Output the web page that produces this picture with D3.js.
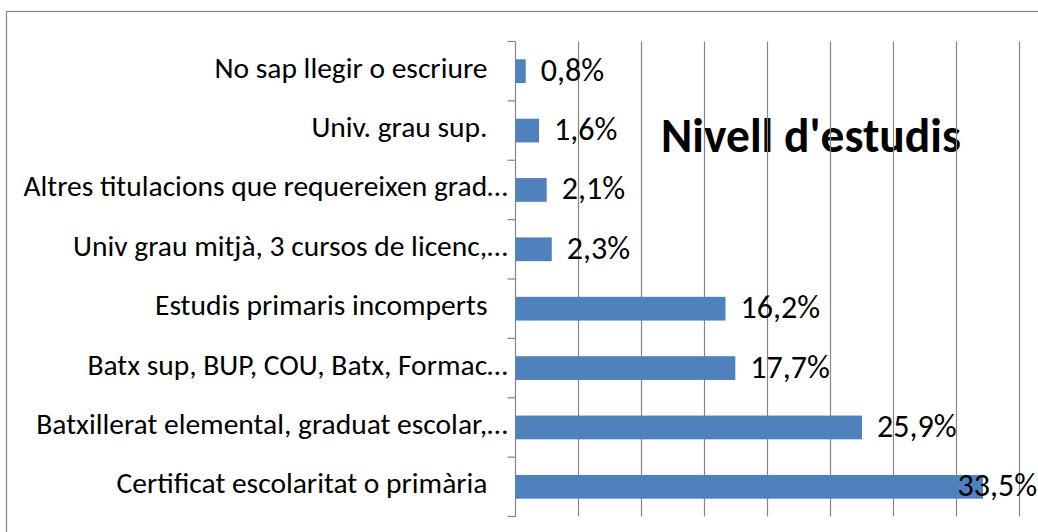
<!DOCTYPE html>
<html>
<head>
<meta charset="utf-8">
<script src="https://cdn.jsdelivr.net/npm/d3@7/dist/d3.min.js"></script>
<style>
  body { margin: 0; background: #fff; overflow: hidden; }
  svg { display: block; }
  text { white-space: pre; }
</style>
</head>
<body>
<div id="chart"></div>
<script>
// categories, top to bottom as drawn
const categories = [
    "No sap llegir o escriure   ",
    "Univ. grau sup.   ",
    "Altres titulacions que requereixen grad…",
    "Univ grau mitjà, 3 cursos de licenc,…",
    "Estudis primaris incomperts   ",
    "Batx sup, BUP, COU, Batx, Formac…",
    "Batxillerat elemental, graduat escolar,…",
    "Certificat escolaritat o primària   "
];
// bar lengths (gridline every 4.5)
const barValues = [0.73, 1.68, 2.23, 2.59, 15.0, 15.7, 24.75, 33.4];
// data labels printed next to the bars
const percentLabels = ["0,8%", "1,6%", "2,1%", "2,3%", "16,2%", "17,7%", "25,9%", "33,5%"];
const gridValues = [4.5, 9, 13.5, 18, 22.5, 27, 31.5, 36, 40.5];
const chartTitle = "Nivell d'estudis";

const W = 1038, H = 532;
const margin = { top: 41.5, left: 515.5 };
const plotH = 475;
const font = "Carlito, Calibri, Lato, sans-serif";

const svg = d3.select("#chart")
    .append("svg")
    .attr("width", W)
    .attr("height", H);

// chart border (runs off the right and bottom)
svg.append("rect")
    .attr("x", 6.5).attr("y", 11.5)
    .attr("width", W + 20).attr("height", H + 20)
    .attr("fill", "none")
    .attr("stroke", "#868686")
    .attr("stroke-width", 1.2);

const g = svg.append("g")
    .attr("transform", `translate(${margin.left}, ${margin.top})`);

const xScale = d3.scaleLinear()
    .domain([0, 36])
    .range([0, 504]);

const yScale = d3.scaleBand()
    .domain(categories)
    .range([0, plotH]);

// title is under the gridlines in the original
g.append("text")
    .attr("x", 811 - margin.left)
    .attr("y", 151.5 - margin.top)
    .attr("text-anchor", "middle")
    .style("font-family", font)
    .style("font-size", "47.5px")
    .style("font-weight", 700)
    .attr("fill", "#000")
    .text(chartTitle);

// vertical gridlines
g.selectAll(".grid")
    .data(gridValues)
    .enter()
    .append("line")
    .attr("x1", d => xScale(d)).attr("x2", d => xScale(d))
    .attr("y1", 0).attr("y2", plotH)
    .attr("stroke", "#868686")
    .attr("stroke-width", 1.2);

// category axis
const yAxis = g.append("g")
    .call(d3.axisLeft(yScale).tickSize(0).tickPadding(8));
yAxis.select(".domain").remove();
yAxis.selectAll("text")
    .style("font-family", font)
    .style("font-size", "29.5px")
    .attr("fill", "#000")
    .attr("dy", "0.22em");

g.append("line")
    .attr("x1", 0).attr("x2", 0)
    .attr("y1", 0).attr("y2", plotH)
    .attr("stroke", "#868686").attr("stroke-width", 1.2);

g.selectAll(".ytick")
    .data(d3.range(categories.length + 1))
    .enter()
    .append("line")
    .attr("x1", -8).attr("x2", 0)
    .attr("y1", i => i * yScale.step()).attr("y2", i => i * yScale.step())
    .attr("stroke", "#868686").attr("stroke-width", 1.2);

// bars
const barH = yScale.bandwidth() * 0.4;
g.selectAll(".bar")
    .data(categories)
    .enter()
    .append("rect")
    .classed("bar", true)
    .attr("x", xScale(0))
    .attr("y", (d, i) => yScale(d) + (yScale.bandwidth() - barH) / 2)
    .attr("width", (d, i) => xScale(barValues[i]) - xScale(0))
    .attr("height", barH)
    .attr("fill", "#4F81BD");

// data labels
g.selectAll(".lbl")
    .data(categories)
    .enter()
    .append("text")
    .classed("lbl", true)
    .style("font-family", font)
    .style("font-size", "32px")
    .attr("fill", "#000")
    .attr("y", d => yScale(d) + yScale.bandwidth() / 2 + 9.5)
    .text((d, i) => percentLabels[i])
    .attr("x", function(d, i) {
        const x = xScale(barValues[i]) + 15;
        const w = this.getComputedTextLength();
        return Math.min(x, W - margin.left - 1 - w);
    });
</script>
</body>
</html>
